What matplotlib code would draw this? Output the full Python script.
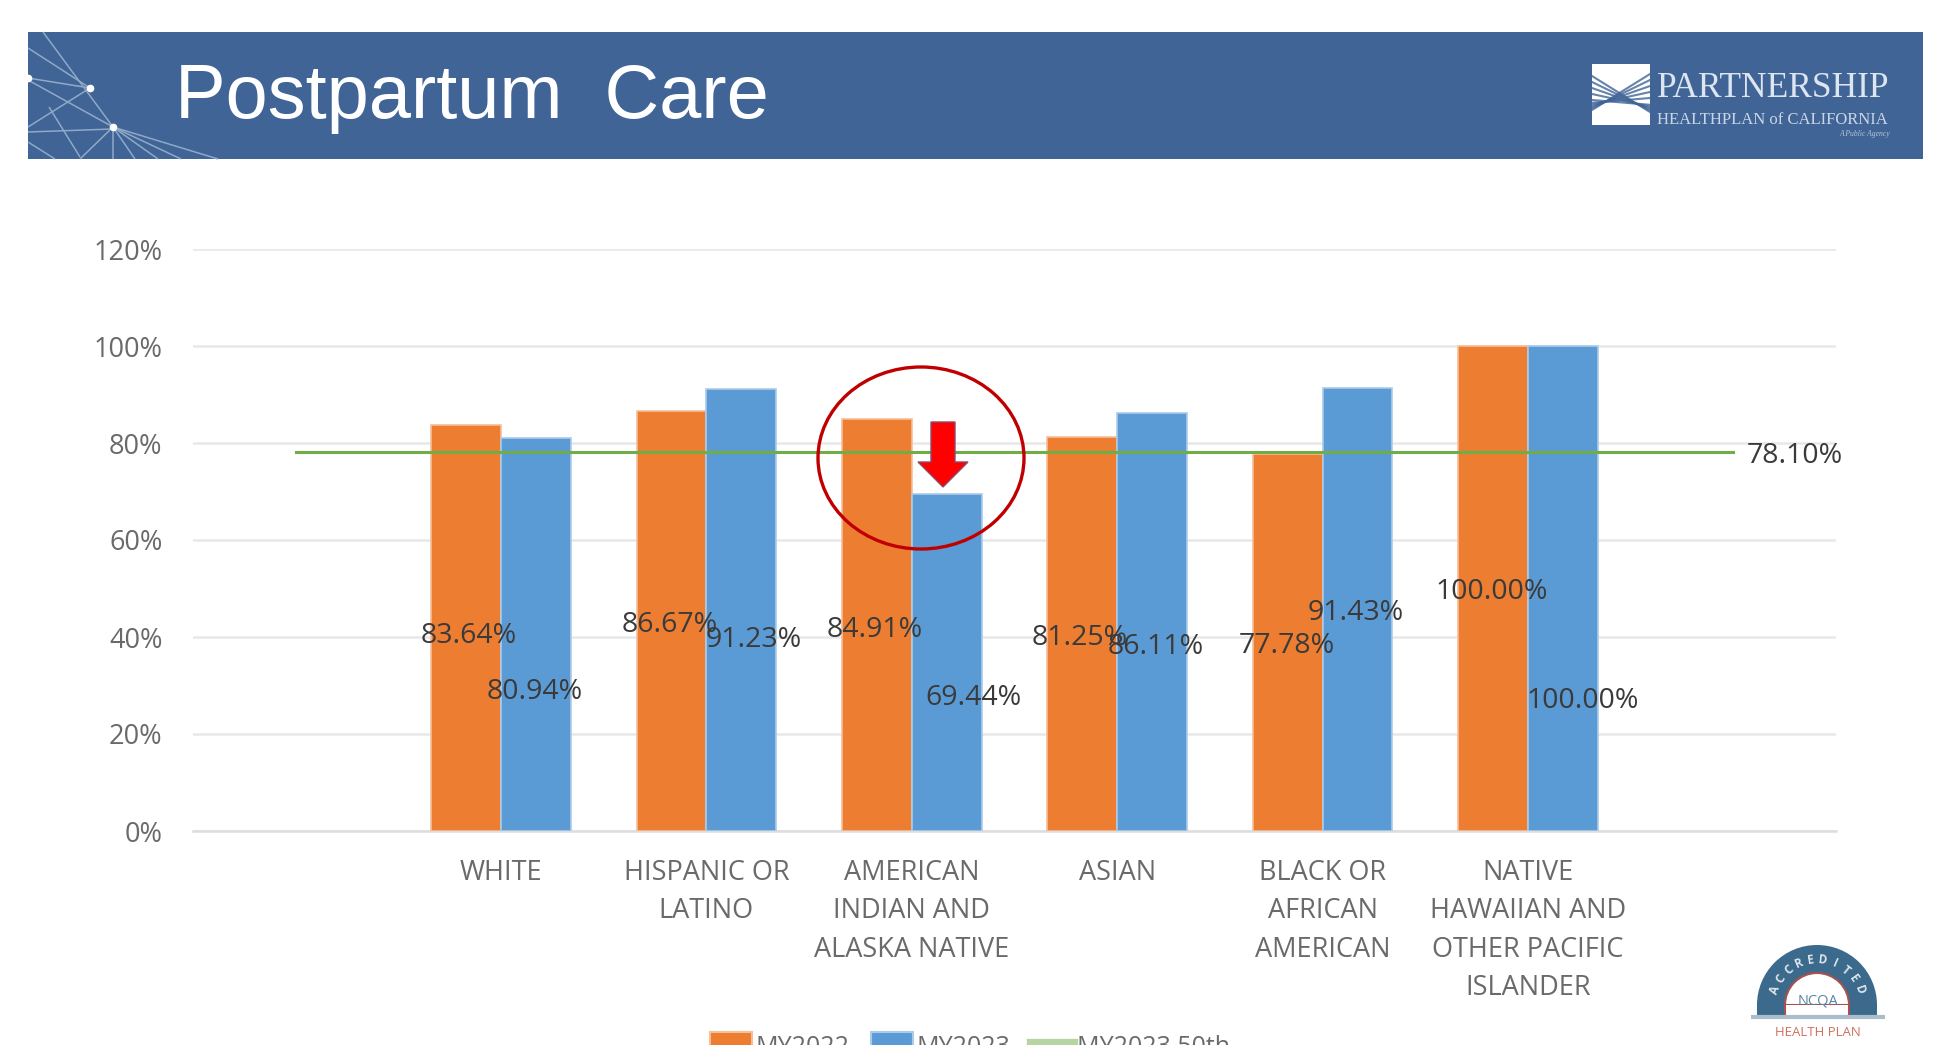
import numpy as np
import matplotlib
matplotlib.use('Agg')
import matplotlib.pyplot as plt
from matplotlib.lines import Line2D
from matplotlib.patches import Rectangle, Ellipse, Polygon, Wedge

# --- Data ---
categories = ['', 'WHITE', 'HISPANIC OR\nLATINO', 'AMERICAN\nINDIAN AND\nALASKA NATIVE', 'ASIAN',
              'BLACK OR\nAFRICAN\nAMERICAN', 'NATIVE\nHAWAIIAN AND\nOTHER PACIFIC\nISLANDER', '']
my2022 = [np.nan, 83.64, 86.67, 84.91, 81.25, 77.78, 100.00, np.nan]
my2023 = [np.nan, 80.94, 91.23, 69.44, 86.11, 91.43, 100.00, np.nan]
benchmark = [78.10] * 8
y_ticks = [0, 20, 40, 60, 80, 100, 120]
series_names = ['MY2022', 'MY2023', 'MY2023 50th']

# data labels sit where the original slide left them (figure pixels, centre)
label_pos_2022 = [(469, 636), (670, 625), (875, 630), (1080, 638), (1287, 646), (1492, 592)]
label_pos_2023 = [(535, 692), (754, 640), (973, 698), (1156, 647), (1356, 613), (1583, 701)]

ORANGE = '#ED7D31'
BLUE = '#5B9BD5'
GREEN = '#70AD47'
BANNER = '#406496'
W, H = 1956, 1045

plt.rcParams['font.family'] = ['Open Sans', 'DejaVu Sans']
fig = plt.figure(figsize=(W / 100, H / 100), dpi=100, facecolor='white')

# --- Chart ---
ax = fig.add_axes([193 / W, 1 - 831 / H, (1836 - 193) / W, (831 - 249) / H])
x = np.arange(len(categories))
bar_w = 0.34
bars_a = ax.bar(x - bar_w / 2, my2022, bar_w, color=ORANGE, edgecolor='#F6BF98', linewidth=1.2, zorder=3)
bars_b = ax.bar(x + bar_w / 2, my2023, bar_w, color=BLUE, edgecolor='#ABCBE8', linewidth=1.2, zorder=3)
ax.plot(x, benchmark, color=GREEN, lw=2.2, zorder=4)

ax.set_xlim(-0.5, 7.5)
ax.set_ylim(0, 120)
ax.set_yticks(y_ticks)
ax.set_yticklabels([f'{t}%' for t in y_ticks], fontsize=19.5, color='#6A6A6A')
ax.set_xticks(x)
ax.set_xticklabels(categories, fontsize=19.5, color='#6A6A6A', linespacing=1.5)
ax.tick_params(length=0)
ax.tick_params(axis='y', pad=22)
ax.tick_params(axis='x', pad=20)
ax.grid(axis='y', color='#E8E8E8', lw=1.8, zorder=0)
ax.set_axisbelow(True)
for side in ['top', 'right', 'left']:
    ax.spines[side].set_visible(False)
ax.spines['bottom'].set_color('#DDDDDD')
ax.spines['bottom'].set_linewidth(1.8)

handles = [Rectangle((0, 0), 1, 1, fc=ORANGE, ec='#F6BF98', lw=1.5),
           Rectangle((0, 0), 1, 1, fc=BLUE, ec='#ABCBE8', lw=1.5),
           Line2D([0], [0], color='#B7D5A2', lw=6)]
leg = fig.legend(handles, series_names, loc='lower left', bbox_to_anchor=(710 / W, 1 - 1060 / H),
                 bbox_transform=fig.transFigure, ncol=3, frameon=False, fontsize=18,
                 handlelength=1.7, handleheight=1.25, handletextpad=0.12, columnspacing=0.85,
                 borderpad=0, borderaxespad=0, labelcolor='#6A6A6A')

# --- Overlay in figure pixels for everything the slide adds on top ---
ov = fig.add_axes([0, 0, 1, 1], zorder=5)
ov.set_xlim(0, W)
ov.set_ylim(H, 0)
ov.axis('off')
ov.patch.set_alpha(0)

for (px, py), v in zip(label_pos_2022, my2022[1:7]):
    ov.text(px, py, f'{v:.2f}%', ha='center', va='center', fontsize=20.5, color='#3A3A3A')
for (px, py), v in zip(label_pos_2023, my2023[1:7]):
    ov.text(px, py, f'{v:.2f}%', ha='center', va='center', fontsize=20.5, color='#3A3A3A')
ov.text(1795, 456, f'{benchmark[-1]:.2f}%', ha='center', va='center', fontsize=20.5, color='#3A3A3A')

# callout circle and arrow
ov.add_patch(Ellipse((921, 458), 206, 182, fill=False, ec='#C00000', lw=2.4))
ov.add_patch(Polygon([(931, 422), (955, 422), (955, 462), (968, 462), (943, 487), (918, 462), (931, 462)],
                     closed=True, fc='#FF0000', ec='#8E4A6A', lw=1.0))

# --- Banner ---
ov.add_patch(Rectangle((28, 32), 1895, 127, fc=BANNER, ec='none'))
net = [((43, 32), (113, 127)), ((28, 48), (90, 88)), ((28, 78), (90, 88)), ((28, 80), (113, 127)),
       ((90, 88), (28, 127)), ((28, 132), (113, 129)), ((113, 127), (80, 159)), ((49, 107), (80, 157)),
       ((28, 142), (55, 159)), ((113, 127), (218, 159)), ((113, 127), (181, 159)), ((113, 127), (158, 159)),
       ((113, 127), (135, 159)), ((113, 127), (113, 159))]
for a, b in net:
    ov.plot([a[0], b[0]], [a[1], b[1]], color='#8FA9C8', lw=1.1, solid_capstyle='butt')
ov.plot([90, 113, 28], [88, 127, 78], ls='none', marker='o', ms=4.5, color='white')

ov.text(175, 118, 'Postpartum  Care', color='white', fontsize=54.5, family='Liberation Sans', va='baseline')

# partnership logo
ov.add_patch(Rectangle((1592, 64), 58, 61, fc='white', ec='none'))
for off in np.arange(0, 30, 6):
    ov.plot([1592, 1650], [76 + off, 112 - off * 0.3], color=BANNER, lw=1.5, alpha=0.8)
    ov.plot([1592, 1650], [110 - off * 0.3, 74 + off], color=BANNER, lw=1.5, alpha=0.8)
ov.text(1657, 97, 'PARTNERSHIP', color='#DCE5F0', fontsize=25.5, family='Liberation Serif', va='baseline')
ov.text(1657, 124, 'HEALTHPLAN of CALIFORNIA', color='#C9D6E6', fontsize=12, family='Liberation Serif', va='baseline')
ov.text(1890, 136, 'A Public Agency', color='#B5C6DB', fontsize=5.5, style='italic', ha='right', va='baseline',
        family='Liberation Serif')

# --- NCQA seal ---
sx, sy = 1817, 1005
ov.add_patch(Wedge((sx, sy), 60, 180, 360, fc='#3B6A8C', ec='none'))
ov.add_patch(Rectangle((sx - 60, sy), 120, 12, fc='#3B6A8C', ec='none'))
ov.add_patch(Wedge((sx, sy), 32, 180, 360, fc='white', ec='#A85050', lw=1.5))
ov.add_patch(Rectangle((sx - 32, sy), 64, 12, fc='white', ec='none'))
ov.plot([sx - 32, sx - 32], [sy, 1017], color='#A85050', lw=1.5)
ov.plot([sx + 32, sx + 32], [sy, 1017], color='#A85050', lw=1.5)
ov.plot([1751, 1885], [1017, 1017], color='#A9BDCB', lw=3, solid_capstyle='butt')
for letter, ang in zip('ACCREDITED', np.linspace(160, 20, 10)):
    px = sx + 45 * np.cos(np.radians(ang))
    py = sy - 45 * np.sin(np.radians(ang))
    ov.text(px, py, letter, color='#DDE6EC', fontsize=8.5, fontweight='bold', ha='center', va='center', rotation=ang - 90)
ov.text(sx + 1, 1001, 'NCQA', color='#5A86A3', fontsize=10.5, ha='center', va='center')
ov.text(sx + 1, 1032, 'HEALTH PLAN', color='#D0705F', fontsize=9.5, ha='center', va='center')

fig.savefig('out.png', dpi=100)
